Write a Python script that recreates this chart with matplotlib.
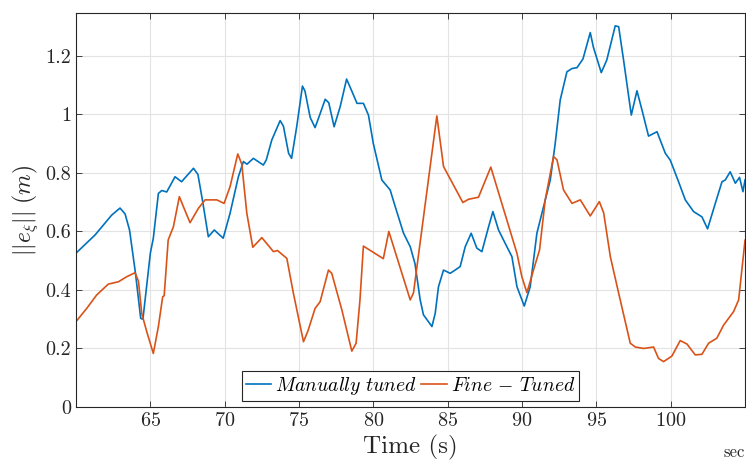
import matplotlib
matplotlib.use("Agg")
import matplotlib.pyplot as plt
from matplotlib.ticker import FormatStrFormatter

plt.rcParams['font.family'] = 'serif'
plt.rcParams['font.serif'] = ['cmr10', 'DejaVu Serif']
plt.rcParams['mathtext.fontset'] = 'cm'
plt.rcParams['axes.formatter.use_mathtext'] = True

# ---------------- data ----------------
t_manual = [60.0, 61.28, 62.4, 62.96, 63.3, 63.6, 64.0, 64.35, 64.5, 65.0, 65.2,
            65.54, 65.77, 66.1, 66.66, 67.1, 67.9, 68.2, 68.5, 68.9, 69.3, 69.9,
            70.36, 70.92, 71.26, 71.5, 71.93, 72.6, 72.8, 73.17, 73.73, 73.95,
            74.3, 74.5, 74.85, 75.23, 75.4, 75.75, 76.08, 76.4, 76.76, 77.0,
            77.36, 77.77, 78.2, 78.55, 78.9, 79.33, 79.67, 80.0, 80.57, 81.13,
            81.47, 82.03, 82.48, 82.8, 83.15, 83.37, 83.94, 84.16, 84.38, 84.72,
            85.17, 85.5, 85.84, 86.18, 86.58, 86.96, 87.3, 87.75, 88.04, 88.42,
            88.98, 89.32, 89.66, 90.15, 90.55, 91.0, 91.45, 91.9, 92.23, 92.57,
            93.02, 93.36, 93.7, 94.1, 94.59, 94.8, 95.33, 95.7, 96.27, 96.5,
            96.83, 97.35, 97.73, 98.07, 98.51, 99.08, 99.64, 99.97, 100.53,
            100.98, 101.54, 102.1, 102.48, 103.0, 103.45, 103.67, 104.0, 104.35,
            104.63, 104.86, 105.0]
e_manual = [0.526, 0.588, 0.656, 0.68, 0.66, 0.605, 0.457, 0.303, 0.30, 0.526, 0.577,
            0.73, 0.74, 0.735, 0.787, 0.77, 0.816, 0.795, 0.708, 0.582, 0.605, 0.577,
            0.662, 0.787, 0.839, 0.83, 0.85, 0.827, 0.845, 0.913, 0.979, 0.96,
            0.867, 0.85, 0.96, 1.097, 1.08, 0.99, 0.955, 1.0, 1.052, 1.04,
            0.958, 1.027, 1.121, 1.08, 1.038, 1.038, 0.998, 0.90, 0.776, 0.742,
            0.685, 0.594, 0.548, 0.49, 0.366, 0.315, 0.275, 0.32, 0.411, 0.468,
            0.457, 0.468, 0.48, 0.548, 0.594, 0.543, 0.531, 0.616, 0.668, 0.605,
            0.548, 0.514, 0.411, 0.345, 0.411, 0.594, 0.685, 0.776, 0.90, 1.05,
            1.146, 1.157, 1.16, 1.19, 1.28, 1.23, 1.143, 1.186, 1.303, 1.30,
            1.186, 0.998, 1.081, 1.015, 0.926, 0.941, 0.867, 0.844, 0.77,
            0.708, 0.668, 0.65, 0.609, 0.696, 0.77, 0.776, 0.804, 0.765,
            0.785, 0.736, 0.776]

t_fine = [60.0, 60.72, 61.39, 62.17, 62.85, 63.4, 63.97, 64.2, 64.42, 64.76, 65.2,
          65.54, 65.83, 65.93, 66.2, 66.55, 66.95, 67.22, 67.67, 68.23, 68.68,
          69.47, 69.96, 70.36, 70.88, 71.15, 71.49, 71.89, 72.5, 73.28, 73.55,
          74.18, 74.62, 75.3, 75.6, 76.08, 76.42, 76.98, 77.2, 77.88, 78.55,
          78.84, 79.1, 79.33, 80.67, 81.04, 82.48, 82.7, 84.27, 84.72, 86.02,
          86.4, 87.07, 87.9, 89.66, 89.99, 90.33, 90.77, 91.18, 91.56, 92.12,
          92.35, 92.79, 93.36, 93.92, 94.59, 95.2, 95.49, 95.94, 96.5, 97.28,
          97.62, 98.18, 98.85, 99.18, 99.52, 100.08, 100.64, 101.1, 101.65,
          102.1, 102.55, 103.1, 103.56, 104.23, 104.57, 105.0]
e_fine = [0.292, 0.337, 0.383, 0.42, 0.428, 0.445, 0.459, 0.43, 0.32, 0.257, 0.183,
          0.275, 0.377, 0.38, 0.571, 0.616, 0.719, 0.685, 0.63, 0.679, 0.708,
          0.708, 0.696, 0.753, 0.865, 0.83, 0.662, 0.546, 0.579, 0.531, 0.535,
          0.508, 0.389, 0.223, 0.26, 0.337, 0.36, 0.468, 0.457, 0.332, 0.191,
          0.218, 0.366, 0.55, 0.507, 0.6, 0.366, 0.39, 0.995, 0.822, 0.699,
          0.71, 0.717, 0.82, 0.525, 0.445, 0.391, 0.468, 0.537, 0.708, 0.856,
          0.845, 0.742, 0.696, 0.708, 0.653, 0.702, 0.664, 0.514, 0.389, 0.218,
          0.205, 0.2, 0.205, 0.166, 0.155, 0.174, 0.227, 0.215, 0.178,
          0.18, 0.218, 0.235, 0.28, 0.326, 0.366, 0.57]

x_ticks = [65, 70, 75, 80, 85, 90, 95, 100]
y_ticks = [0, 0.2, 0.4, 0.6, 0.8, 1.0, 1.2]

# ---------------- plot ----------------
fig = plt.figure(figsize=(7.46, 4.63), dpi=100)
ax = fig.add_axes([0.1019, 0.121, 0.8968, 0.851])

ax.plot(t_manual, e_manual, color='#0072BD', lw=1.2, label=r'$Manually\ tuned$')
ax.plot(t_fine, e_fine, color='#D95319', lw=1.2, label=r'$Fine\,-\,Tuned$')

ax.set_xlim(60, 105)
ax.set_ylim(0, 1.347)
ax.set_xticks(x_ticks)
ax.set_yticks(y_ticks)
ax.yaxis.set_major_formatter(FormatStrFormatter('%g'))

ax.grid(True, color='#e3e3e3', lw=0.8)
ax.set_axisbelow(True)
ax.tick_params(direction='in', top=True, right=True, length=4, width=0.6,
               labelsize=14.5, colors='#262626')
for s in ax.spines.values():
    s.set_color('#262626')
    s.set_linewidth(0.8)

ax.set_xlabel('Time (s)', fontsize=18, color='#262626', labelpad=4)
ax.set_ylabel(r'$||e_\xi||\ (m)$', fontsize=17, color='#262626', labelpad=4)

leg = ax.legend(loc='lower center', bbox_to_anchor=(0.5, 0.015), ncol=2,
                fontsize=14.2, fancybox=False, framealpha=1, edgecolor='#262626',
                handlelength=1.3, handletextpad=0.2, columnspacing=0.2,
                borderpad=0.2, borderaxespad=0)
leg.get_frame().set_linewidth(0.8)

fig.text(0.998, 0.012, 'sec', fontsize=12, ha='right', color='#262626')

fig.savefig('out.png', dpi=100)
